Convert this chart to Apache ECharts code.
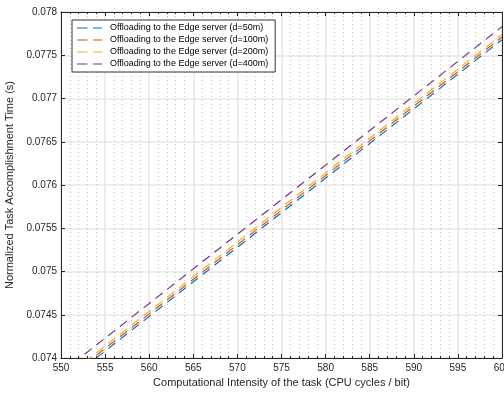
<!DOCTYPE html>
<html>
<head>
<meta charset="utf-8">
<script src="https://cdn.jsdelivr.net/npm/echarts@6/dist/echarts.min.js"></script>
<style>html,body{margin:0;padding:0;background:#fff;}#c{width:504px;height:395px;}</style>
</head>
<body>
<div id="c"></div>
<script>
const xValues = [550, 560, 570, 580, 590, 600];
const d50 = [0.07368, 0.07448, 0.07528, 0.07608, 0.07688, 0.07768];
const d100 = [0.07371, 0.07451, 0.07531, 0.07611, 0.07691, 0.07771];
const d200 = [0.07374, 0.07454, 0.07534, 0.07614, 0.07694, 0.07774];
const d400 = [0.07383, 0.07463, 0.07543, 0.07623, 0.07703, 0.07783];
const seriesNames = [
  'Offloading to the Edge server (d=50m)',
  'Offloading to the Edge server (d=100m)',
  'Offloading to the Edge server (d=200m)',
  'Offloading to the Edge server (d=400m)'
];
const xTicks = [550, 555, 560, 565, 570, 575, 580, 585, 590, 595, 600];
const yTicks = [0.074, 0.0745, 0.075, 0.0755, 0.076, 0.0765, 0.077, 0.0775, 0.078];

const colors = ['#0072BD', '#D95319', '#EDB120', '#7E2F8E'];
const allY = [d50, d100, d200, d400];
const font = 'Liberation Sans, Arial, Helvetica, sans-serif';
const axisCol = '#262626';
const dashIcon = 'path://M0,0H10.5V1H0Z M16,0H25V1H16Z';

const chart = echarts.init(document.getElementById('c'), null, {renderer: 'canvas'});
const axisLine = {show: true, onZero: false, lineStyle: {color: axisCol, width: 1}};
const axisTick = {show: true, inside: true, length: 4, lineStyle: {color: axisCol}};
const xMinorTick = {show: true, splitNumber: 5, length: 2, lineStyle: {color: axisCol}};
const xBase = {type: 'value', min: xTicks[0], max: xTicks[xTicks.length - 1], interval: 5};
const yBase = {type: 'value', min: yTicks[0], max: yTicks[yTicks.length - 1], interval: 0.0005};
const option = {
  animation: false,
  backgroundColor: '#fff',
  grid: {left: 61, right: 2, top: 12, bottom: 37, containLabel: false, outerBoundsMode: 'none'},
  legend: {
    orient: 'vertical', left: 72, top: 20,
    data: seriesNames.map((n, i) => ({name: n, icon: dashIcon, itemStyle: {color: colors[i], borderWidth: 0}})),
    itemWidth: 25, itemHeight: 1.6, itemGap: 2,
    padding: [3, 7, 3, 5],
    borderColor: '#333', borderWidth: 1, backgroundColor: '#fff',
    textStyle: {fontFamily: font, fontSize: 9, color: '#000', padding: [0, 0, 0, 3], lineHeight: 10}
  },
  xAxis: [
    Object.assign({}, xBase, {
      position: 'bottom',
      name: 'Computational Intensity of the task (CPU cycles / bit)',
      nameLocation: 'middle', nameGap: 19,
      nameTextStyle: {fontFamily: font, fontSize: 11, color: '#262626'},
      axisLine: axisLine, axisTick: axisTick, minorTick: xMinorTick,
      axisLabel: {fontFamily: font, fontSize: 10, color: '#262626', margin: 5, showMaxLabel: true, hideOverlap: false},
      splitLine: {show: true, lineStyle: {color: '#e6e6e6', width: 1.5}},
      minorSplitLine: {show: true, lineStyle: {color: '#c4c4c4', width: 1, type: [1, 3]}}
    }),
    Object.assign({}, xBase, {
      position: 'top',
      axisLine: axisLine, axisTick: axisTick, minorTick: xMinorTick,
      axisLabel: {show: false}, splitLine: {show: false}
    })
  ],
  yAxis: [
    Object.assign({}, yBase, {
      position: 'left',
      name: 'Normalized Task Accomplishment Time (s)',
      nameLocation: 'middle', nameGap: 39, nameRotate: 90,
      nameTextStyle: {fontFamily: font, fontSize: 11, color: '#262626'},
      axisLine: axisLine, axisTick: axisTick,
      axisLabel: {fontFamily: font, fontSize: 10, color: '#262626', margin: 4,
        formatter: v => String(+v.toFixed(4))},
      splitLine: {show: true, lineStyle: {color: '#e6e6e6', width: 1.5}}
    }),
    Object.assign({}, yBase, {
      position: 'right',
      axisLine: axisLine, axisTick: axisTick,
      axisLabel: {show: false}, splitLine: {show: false}
    })
  ],
  series: seriesNames.map((n, i) => ({
    name: n, type: 'line', xAxisIndex: 0, yAxisIndex: 0,
    data: xValues.map((x, j) => [x, allY[i][j]]),
    showSymbol: false, symbol: 'none', clip: true,
    lineStyle: {color: colors[i], width: 1.2, type: [9, 6]},
    itemStyle: {color: colors[i]}
  }))
};
chart.setOption(option);
</script>
</body>
</html>
